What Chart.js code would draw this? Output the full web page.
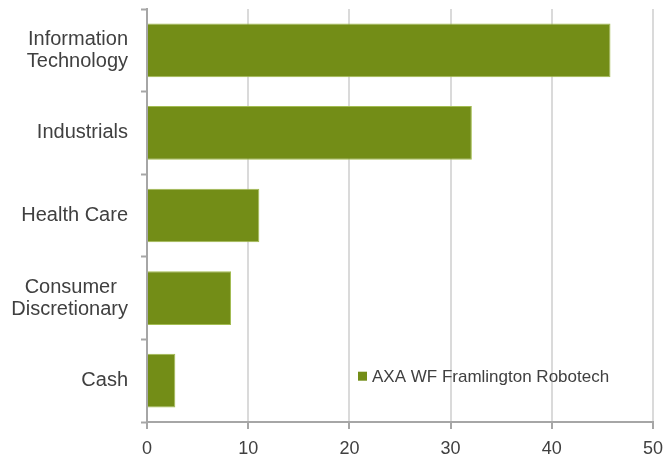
<!DOCTYPE html>
<html><head><meta charset="utf-8">
<script src="https://cdn.jsdelivr.net/npm/chart.js@4"></script>
<style>html,body{margin:0;padding:0;background:#fff}#wrap{width:663px;height:459px;position:relative}</style>
</head><body><div id="wrap"><canvas id="c"></canvas></div>
<script>
const categories = [["Information","Technology"], "Industrials", "Health Care", ["Consumer  ","Discretionary"], "Cash"];
const seriesName = "AXA WF Framlington Robotech";
const values = [45.8, 32.1, 11.1, 8.3, 2.8];
const xTicks = [0, 10, 20, 30, 40, 50];

const barColor = '#738D17';
const textColor = '#404040';
const axisColor = '#A6A6A6';
const gridColor = '#DADADA';

const legendPlugin = {
  id: 'innerLegend',
  afterDraw(chart) {
    const ctx = chart.ctx;
    const ds = chart.data.datasets[0];
    const x = chart.scales.x.getPixelForValue(20.85);
    const y = chart.scales.y.getPixelForValue(4) - 4;
    ctx.save();
    ctx.fillStyle = ds.backgroundColor;
    ctx.fillRect(x, y - 5, 9, 9);
    ctx.font = '17px "Liberation Sans", Arial, sans-serif';
    ctx.fillStyle = textColor;
    ctx.textBaseline = 'middle';
    ctx.textAlign = 'left';
    ctx.fillText(ds.label, x + 14, y + 1);
    ctx.restore();
  }
};

new Chart(document.getElementById('c'), {
  type: 'bar',
  data: {
    labels: categories,
    datasets: [{
      label: seriesName,
      data: values,
      backgroundColor: barColor,
      borderColor: '#A3BC52',
      borderWidth: 1,
      categoryPercentage: 1,
      barPercentage: 0.65
    }]
  },
  options: {
    indexAxis: 'y',
    responsive: true,
    maintainAspectRatio: false,
    animation: false,
    layout: { padding: { top: 9, right: 0, left: 0, bottom: 0 } },
    plugins: { legend: { display: false }, tooltip: { enabled: false } },
    scales: {
      x: {
        min: xTicks[0], max: xTicks[xTicks.length - 1],
        afterBuildTicks(scale) { scale.ticks = xTicks.map(v => ({ value: v })); },
        afterFit(scale) { scale.height = 37; scale.paddingRight = 10; scale.paddingLeft = 0; },
        border: { color: axisColor, width: 2 },
        grid: { color: gridColor, lineWidth: 2, tickColor: axisColor, tickWidth: 2, tickLength: 7 },
        ticks: { color: textColor, padding: 9, font: { family: '"Liberation Sans", Arial, sans-serif', size: 18 } }
      },
      y: {
        afterFit(scale) { scale.width = 147; scale.paddingTop = 0; scale.paddingBottom = 0; },
        border: { color: axisColor, width: 2 },
        grid: { offset: true, drawOnChartArea: false, tickColor: axisColor, tickWidth: 2, tickLength: 6 },
        ticks: { color: textColor, padding: 13, crossAlign: 'near', font: { family: '"Liberation Sans", Arial, sans-serif', size: 20, lineHeight: 1.1 } }
      }
    }
  },
  plugins: [legendPlugin]
});
</script></body></html>
